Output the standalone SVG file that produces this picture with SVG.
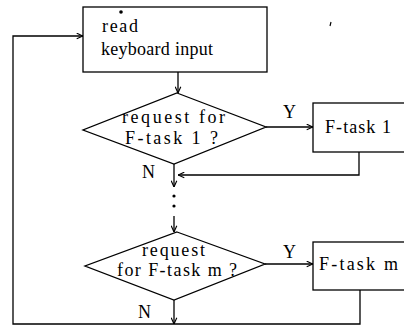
<svg xmlns="http://www.w3.org/2000/svg" width="404" height="326" viewBox="0 0 404 326">
<style>
.box{fill:#fff;stroke:#000;stroke-width:1.3}
.ln{fill:none;stroke:#000;stroke-width:1.3}
.arr{marker-end:url(#ah)}
text{font-family:"Liberation Serif","Times New Roman",serif;font-size:18px;fill:#000}
</style>
<defs>
<marker id="ah" viewBox="0 0 10 10" refX="10" refY="5" markerWidth="7" markerHeight="7" markerUnits="userSpaceOnUse" orient="auto">
<path d="M1,1 L10,5 L1,9" fill="none" stroke="#000" stroke-width="1.6"/>
</marker>
</defs>
<rect width="404" height="326" fill="#fff"/>
<g id="connectors">
<path class="ln arr" d="M178,72 V93"/>
<path class="ln arr" d="M266,127 H313"/>
<path class="ln arr" d="M359,152 V175 H178"/>
<path class="ln arr" d="M174,164 V187"/>
<circle cx="174" cy="196" r="1.6"/>
<circle cx="174" cy="206" r="1.6"/>
<path class="ln arr" d="M174,216 V232"/>
<path class="ln arr" d="M265,264 H313"/>
<path class="ln arr" d="M174,300 V324"/>
<path class="ln arr" d="M360,290 V324 H13 V36 H83"/>
<text x="283" y="118">Y</text>
<text x="142" y="178">N</text>
<text x="283" y="258">Y</text>
<text x="138" y="318">N</text>
</g>
<g id="read">
<rect class="box" x="83" y="7" width="184" height="65"/>
<circle cx="121" cy="12" r="1.8"/>
<text x="102" y="32" textLength="36" lengthAdjust="spacing">read</text>
<text x="101" y="55" textLength="112" lengthAdjust="spacing">keyboard input</text>
</g>
<g id="dec1">
<polygon class="box" points="177,93 266,127 174,164 83,130"/>
<text x="122" y="123" textLength="103" lengthAdjust="spacing">request for</text>
<text x="125" y="144" textLength="93" lengthAdjust="spacing">F-task 1 ?</text>
</g>
<g id="task1">
<rect class="box" x="313" y="103" width="100" height="49"/>
<text x="325" y="133" textLength="66" lengthAdjust="spacing">F-task 1</text>
</g>
<g id="dec2">
<polygon class="box" points="177,232 265,264 174,300 85,266"/>
<text x="142" y="256" textLength="63" lengthAdjust="spacing">request</text>
<text x="117" y="276" textLength="120" lengthAdjust="spacing">for F-task m ?</text>
</g>
<g id="taskm">
<rect class="box" x="313" y="242" width="100" height="48"/>
<text x="319" y="270" textLength="79" lengthAdjust="spacing">F-task m</text>
</g>
<path d="M331,22 L330,26" stroke="#000" stroke-width="1.2"/>
</svg>
